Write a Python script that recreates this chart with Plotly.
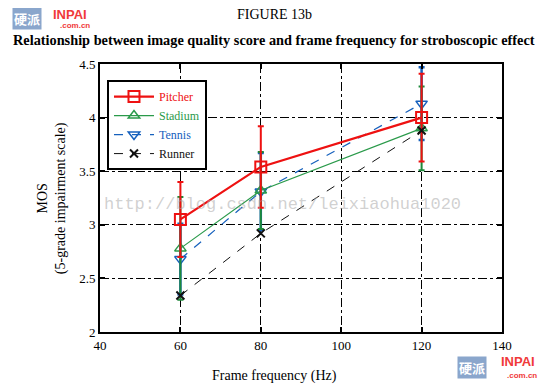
import plotly.graph_objects as go

freq = [60, 80, 120]
pitcher = [3.05, 3.54, 4.00]
pitcher_err = [0.35, 0.38, 0.41]
stadium = [2.78, 3.32, 3.90]
stadium_err = [0.48, 0.36, 0.39]
tennis = [2.68, 3.31, 4.13]
tennis_err = [0.33, 0.36, 0.34]
runner = [2.34, 2.92, 3.88]

xticks = [40, 60, 80, 100, 120, 140]
yticks = [2, 2.5, 3, 3.5, 4, 4.5]

serif = "Liberation Serif, Times New Roman, serif"

fig = go.Figure()

def add(name, y, err, color, lw, dash, symbol, msize, ecolor, ethick, mline, rank):
    fig.add_trace(go.Scatter(
        x=freq, y=y, mode="lines+markers",
        name=f"<span style=\"color:{color};font-family:'Liberation Serif'\">{name}</span>",
        legendrank=rank,
        line=dict(color=color, width=lw, dash=dash),
        marker=dict(symbol=symbol, size=msize, color=color, line=dict(color=color, width=mline)),
        error_y=(dict(type="data", array=err, visible=True, color=ecolor, thickness=ethick, width=3)
                 if err is not None else None),
    ))

add("Tennis", tennis, tennis_err, "#1560bd", 1.2, "dash", "triangle-down-open", 10, "#1560bd", 2.5, 1.5, 3)
add("Stadium", stadium, stadium_err, "#2a9a4a", 1.2, "solid", "triangle-up-open", 10, "#1d8a3a", 2, 1.5, 2)
add("Pitcher", pitcher, pitcher_err, "#ee1111", 2.2, "solid", "square-open", 11, "#ee1111", 2, 2, 1)
add("Runner", runner, None, "#111111", 1.0, "dash", "x-thin-open", 8, "#111111", 1, 2, 4)

axis_common = dict(
    showgrid=True, gridcolor="black", gridwidth=1, griddash="dashdot",
    showline=True, linecolor="black", linewidth=2, mirror="ticks",
    ticks="inside", ticklen=5, tickcolor="black", tickwidth=1.5,
    zeroline=False, tickfont=dict(family=serif, size=13, color="black"),
)

fig.update_xaxes(range=[40, 140], tickvals=xticks, ticktext=[str(v) for v in xticks], **axis_common)
fig.update_yaxes(range=[2, 4.5], tickvals=yticks, ticktext=[f"{v:g}" for v in yticks], **axis_common)

def ann(text, x, y, size, color="black", family=serif, **kw):
    d = dict(text=text, x=x, y=y, xref="paper", yref="paper", xanchor="center", yanchor="middle",
             showarrow=False, font=dict(family=family, size=size, color=color))
    d.update(kw)
    return d

cjk = "Noto Sans CJK SC, sans-serif"
sans = "Liberation Sans, Arial, sans-serif"

annotations = [
    ann("FIGURE 13b", 0.435, 1.183, 14),
    ann("<b>Relationship between image quality score and frame frequency for stroboscopic effect</b>", 0.433, 1.0896, 14.3),
    ann("Frame frequency (Hz)", 0.435, -0.164, 14),
    ann("MOS<br>(5-grade impairment scale)", -0.119, 0.5, 14, textangle=-90),
    ann("http://blog.csdn.net/leixiaohua1020", 0.455, 0.474, 17, color="rgba(170,170,170,0.55)",
        family="Liberation Mono, monospace"),
    # logos
    ann("<b>硬派</b>", -0.1816, 1.168, 13, color="white", family=cjk, bgcolor="#8aa6cc", borderpad=1),
    ann("<b>INPAI</b>", -0.0746, 1.184, 13, color="#f03a3a", family=sans),
    ann("<b>.com.cn</b>", -0.062, 1.142, 8, color="#f03a3a", family=sans),
    ann("<b>硬派</b>", 0.925, -0.134, 13, color="white", family=cjk, bgcolor="#8aa6cc", borderpad=1),
    ann("<b>INPAI</b>", 1.04, -0.110, 13, color="#f03a3a", family=sans),
    ann("<b>.com.cn</b>", 1.05, -0.163, 8, color="#f03a3a", family=sans),
]

fig.update_layout(
    width=542, height=379,
    margin=dict(l=92, r=48, t=56, b=55),
    paper_bgcolor="white", plot_bgcolor="white",
    showlegend=True,
    legend=dict(x=0.0174, y=0.94, xanchor="left", yanchor="top",
                bgcolor="white", bordercolor="black", borderwidth=2,
                font=dict(family="Liberation Serif", size=12, color="black"),
                tracegroupgap=0, itemwidth=40),
    annotations=annotations,
)

fig.write_html("out.html")
